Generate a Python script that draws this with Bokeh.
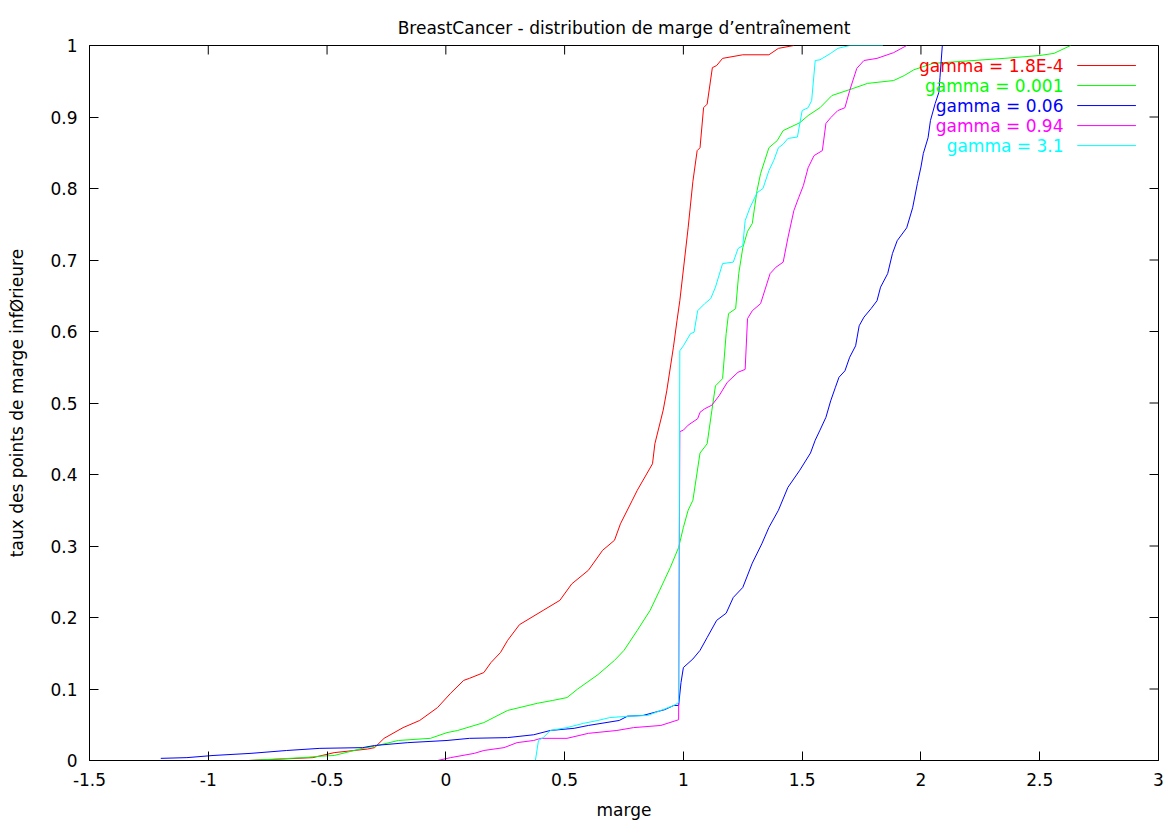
from bokeh.plotting import figure
from bokeh.models import Range1d, FixedTicker, LinearAxis, Title
from bokeh.core.properties import value
from bokeh.embed import file_html
from bokeh.resources import INLINE

# ---------------- data ----------------
red_x = [-0.83, -0.56, -0.47, -0.33, -0.30, -0.26, -0.18, -0.11, -0.035, 0.02, 0.075, 0.10, 0.16, 0.19,
         0.23, 0.26, 0.31, 0.41, 0.48, 0.53, 0.60, 0.66, 0.71, 0.735, 0.785, 0.806, 0.87, 0.88, 0.915,
         0.93, 0.958, 0.973, 0.985, 1.02, 1.04, 1.058, 1.07, 1.085, 1.10, 1.122, 1.14, 1.165, 1.25,
         1.36, 1.40, 1.465]
red_y = [0.0, 0.004, 0.011, 0.016, 0.018, 0.031, 0.046, 0.056, 0.074, 0.094, 0.112, 0.115, 0.123, 0.137,
         0.151, 0.168, 0.19, 0.21, 0.224, 0.247, 0.266, 0.294, 0.308, 0.331, 0.364, 0.378, 0.415, 0.443,
         0.49, 0.517, 0.578, 0.615, 0.643, 0.745, 0.81, 0.853, 0.857, 0.913, 0.918, 0.969, 0.972, 0.982,
         0.987, 0.987, 0.996, 1.0]

green_x = [-0.83, -0.6, -0.53, -0.47, -0.35, -0.30, -0.2, -0.065, 0.005, 0.05, 0.16, 0.26, 0.385, 0.45,
           0.51, 0.555, 0.64, 0.71, 0.75, 0.806, 0.86, 0.90, 0.945, 0.98, 1.0, 1.02, 1.04, 1.07, 1.10,
           1.12, 1.135, 1.165, 1.18, 1.19, 1.22, 1.233, 1.25, 1.27, 1.29, 1.31, 1.325, 1.36, 1.395, 1.42,
           1.49, 1.525, 1.575, 1.625, 1.715, 1.775, 1.885, 1.93, 1.97, 2.05, 2.35, 2.50, 2.56, 2.63]
green_y = [0.0, 0.004, 0.006, 0.007, 0.017, 0.02, 0.028, 0.031, 0.039, 0.042, 0.053, 0.07, 0.08, 0.084,
           0.088, 0.10, 0.12, 0.14, 0.154, 0.182, 0.21, 0.238, 0.27, 0.298, 0.326, 0.35, 0.364, 0.43,
           0.443, 0.49, 0.524, 0.534, 0.597, 0.625, 0.632, 0.681, 0.717, 0.74, 0.751, 0.797, 0.821, 0.857,
           0.867, 0.881, 0.892, 0.902, 0.913, 0.93, 0.94, 0.947, 0.951, 0.958, 0.966, 0.975, 0.982, 0.986,
           0.989, 1.0]

blue_x = [-1.2, -1.09, -0.98, -0.82, -0.67, -0.53, -0.35, -0.30, -0.16, 0.005, 0.10, 0.26, 0.37, 0.44,
          0.54, 0.60, 0.73, 0.765, 0.83, 0.92, 0.96, 0.98, 0.99, 1.0, 1.04, 1.07, 1.10, 1.14, 1.18, 1.21,
          1.25, 1.29, 1.33, 1.36, 1.40, 1.44, 1.49, 1.535, 1.555, 1.575, 1.60, 1.62, 1.64, 1.655, 1.68,
          1.70, 1.725, 1.74, 1.76, 1.79, 1.815, 1.83, 1.86, 1.88, 1.90, 1.94, 1.965, 1.985, 2.0, 2.01,
          2.03, 2.04, 2.06, 2.075, 2.08, 2.09]
blue_y = [0.003, 0.004, 0.007, 0.01, 0.014, 0.017, 0.018, 0.021, 0.025, 0.028, 0.031, 0.032, 0.036,
          0.042, 0.045, 0.049, 0.056, 0.062, 0.063, 0.071, 0.077, 0.077, 0.109, 0.13, 0.142, 0.154, 0.172,
          0.196, 0.206, 0.228, 0.242, 0.276, 0.303, 0.326, 0.35, 0.382, 0.406, 0.43, 0.448, 0.462, 0.48,
          0.503, 0.522, 0.536, 0.545, 0.564, 0.58, 0.608, 0.62, 0.632, 0.643, 0.662, 0.681, 0.709, 0.727,
          0.745, 0.773, 0.807, 0.83, 0.849, 0.871, 0.895, 0.919, 0.934, 0.955, 1.0]

magenta_x = [-0.035, 0.02, 0.12, 0.16, 0.245, 0.30, 0.37, 0.40, 0.51, 0.60, 0.72, 0.79, 0.905, 0.98,
             0.985, 1.0, 1.02, 1.06, 1.07, 1.09, 1.12, 1.15, 1.185, 1.23, 1.26, 1.27, 1.29, 1.325, 1.365,
             1.39, 1.42, 1.44, 1.465, 1.485, 1.505, 1.525, 1.55, 1.585, 1.60, 1.62, 1.65, 1.68, 1.70,
             1.73, 1.76, 1.815, 1.885, 1.94]
magenta_y = [0.0, 0.004, 0.01, 0.014, 0.018, 0.025, 0.028, 0.031, 0.031, 0.038, 0.042, 0.046, 0.049,
             0.057, 0.46, 0.462, 0.469, 0.478, 0.487, 0.492, 0.497, 0.51, 0.529, 0.543, 0.547, 0.618,
             0.629, 0.639, 0.681, 0.69, 0.697, 0.731, 0.769, 0.787, 0.804, 0.829, 0.846, 0.853, 0.891,
             0.899, 0.909, 0.913, 0.937, 0.968, 0.979, 0.982, 0.99, 1.0]

cyan_x = [0.377, 0.39, 0.41, 0.44, 0.51, 0.58, 0.64, 0.69, 0.77, 0.85, 0.905, 0.96, 0.98, 0.985, 1.0,
          1.03, 1.045, 1.06, 1.09, 1.115, 1.135, 1.165, 1.21, 1.23, 1.25, 1.26, 1.28, 1.31, 1.335, 1.36,
          1.38, 1.40, 1.42, 1.44, 1.48, 1.50, 1.525, 1.54, 1.555, 1.575, 1.62, 1.65, 1.70, 1.84]
cyan_y = [0.0, 0.028, 0.032, 0.042, 0.046, 0.052, 0.056, 0.06, 0.062, 0.063, 0.07, 0.077, 0.081, 0.573,
          0.58, 0.597, 0.599, 0.629, 0.639, 0.646, 0.662, 0.695, 0.697, 0.716, 0.72, 0.755, 0.773, 0.794,
          0.8, 0.825, 0.839, 0.857, 0.862, 0.87, 0.872, 0.909, 0.913, 0.923, 0.979, 0.98, 0.989, 0.996,
          1.0, 1.0]

series_labels = ["gamma = 1.8E-4", "gamma = 0.001", "gamma = 0.06", "gamma = 0.94", "gamma = 3.1"]
series_colors = ["#ff0000", "#00ff00", "#0000ff", "#ff00ff", "#00ffff"]
series_x = [red_x, green_x, blue_x, magenta_x, cyan_x]
series_y = [red_y, green_y, blue_y, magenta_y, cyan_y]

x_ticks = [-1.5, -1.0, -0.5, 0.0, 0.5, 1.0, 1.5, 2.0, 2.5, 3.0]
x_tick_labels = ["-1.5", "-1", "-0.5", "0", "0.5", "1", "1.5", "2", "2.5", "3"]
y_ticks = [0.0, 0.1, 0.2, 0.3, 0.4, 0.5, 0.6, 0.7, 0.8, 0.9, 1.0]
y_tick_labels = ["0", "0.1", "0.2", "0.3", "0.4", "0.5", "0.6", "0.7", "0.8", "0.9", "1"]

title_text = "BreastCancer - distribution de marge d\u2019entra\u00eenement"
x_label = "marge"
y_label = "taux des points de marge inf\u00d8rieure"

# ---------------- figure ----------------
FONT = "DejaVu Sans"
FS = "17px"
X0, X1, Y0, Y1 = -1.5, 3.0, 0.0, 1.0
FRAME_W, FRAME_H = 1069, 715
TICK_PX = 9

p = figure(width=1167, height=822, output_backend="svg", toolbar_location=None,
           x_range=Range1d(X0, X1), y_range=Range1d(Y0, Y1),
           x_axis_location=None, y_axis_location=None,
           min_border_left=89, min_border_right=9, min_border_top=45, min_border_bottom=62)
p.background_fill_color = "white"
p.border_fill_color = "white"
p.outline_line_color = "black"
p.outline_line_width = 1
p.xgrid.visible = False
p.ygrid.visible = False

def style_axis(ax):
    ax.major_tick_in = TICK_PX
    ax.major_tick_out = 0
    ax.minor_tick_in = 0
    ax.minor_tick_out = 0
    ax.axis_line_color = "black"
    ax.major_tick_line_color = "black"
    ax.major_label_text_font = FONT
    ax.major_label_text_font_size = FS
    ax.major_label_text_color = "black"
    ax.axis_label_text_font = FONT
    ax.axis_label_text_font_size = FS
    ax.axis_label_text_font_style = "normal"
    ax.axis_label_text_color = "black"

xb = LinearAxis(ticker=FixedTicker(ticks=x_ticks),
                major_label_overrides=dict(zip(x_ticks, x_tick_labels)), axis_label=x_label)
style_axis(xb)
xb.major_label_standoff = 12
xb.axis_label_standoff = 11
p.add_layout(xb, "below")

yl = LinearAxis(ticker=FixedTicker(ticks=y_ticks),
                major_label_overrides=dict(zip(y_ticks, y_tick_labels)), axis_label=y_label)
style_axis(yl)
yl.major_label_standoff = 12
yl.axis_label_standoff = 20
p.add_layout(yl, "left")

t = Title(text=title_text, align="center", vertical_align="top", text_baseline="middle",
          text_font=FONT, text_font_size=FS,
          text_font_style="normal", text_color="black", standoff=12)
p.add_layout(t, "above")

# mirrored tick marks on the top and right borders (gnuplot style)
dy = (Y1 - Y0) * TICK_PX / FRAME_H
dx = (X1 - X0) * TICK_PX / FRAME_W
p.segment(x0=x_ticks, y0=[Y1] * len(x_ticks), x1=x_ticks, y1=[Y1 - dy] * len(x_ticks),
          line_color="black", line_width=1)
p.segment(x0=[X1] * len(y_ticks), y0=y_ticks, x1=[X1 - dx] * len(y_ticks), y1=y_ticks,
          line_color="black", line_width=1)

for xs, ys, c in zip(series_x, series_y, series_colors):
    p.line(xs, ys, line_color=c, line_width=1)

# legend (gnuplot style: right-aligned label, sample line to its right)
leg_y = [0.972, 0.944, 0.916, 0.888, 0.860]
p.text(x=[2.60] * 5, y=leg_y, text=series_labels, text_color=series_colors,
       text_align="right", text_baseline="middle",
       text_font=value(FONT), text_font_size=FS)
p.segment(x0=[2.658] * 5, y0=leg_y, x1=[2.905] * 5, y1=leg_y, line_color=series_colors, line_width=1)

open("out.html", "w").write(file_html(p, INLINE))
